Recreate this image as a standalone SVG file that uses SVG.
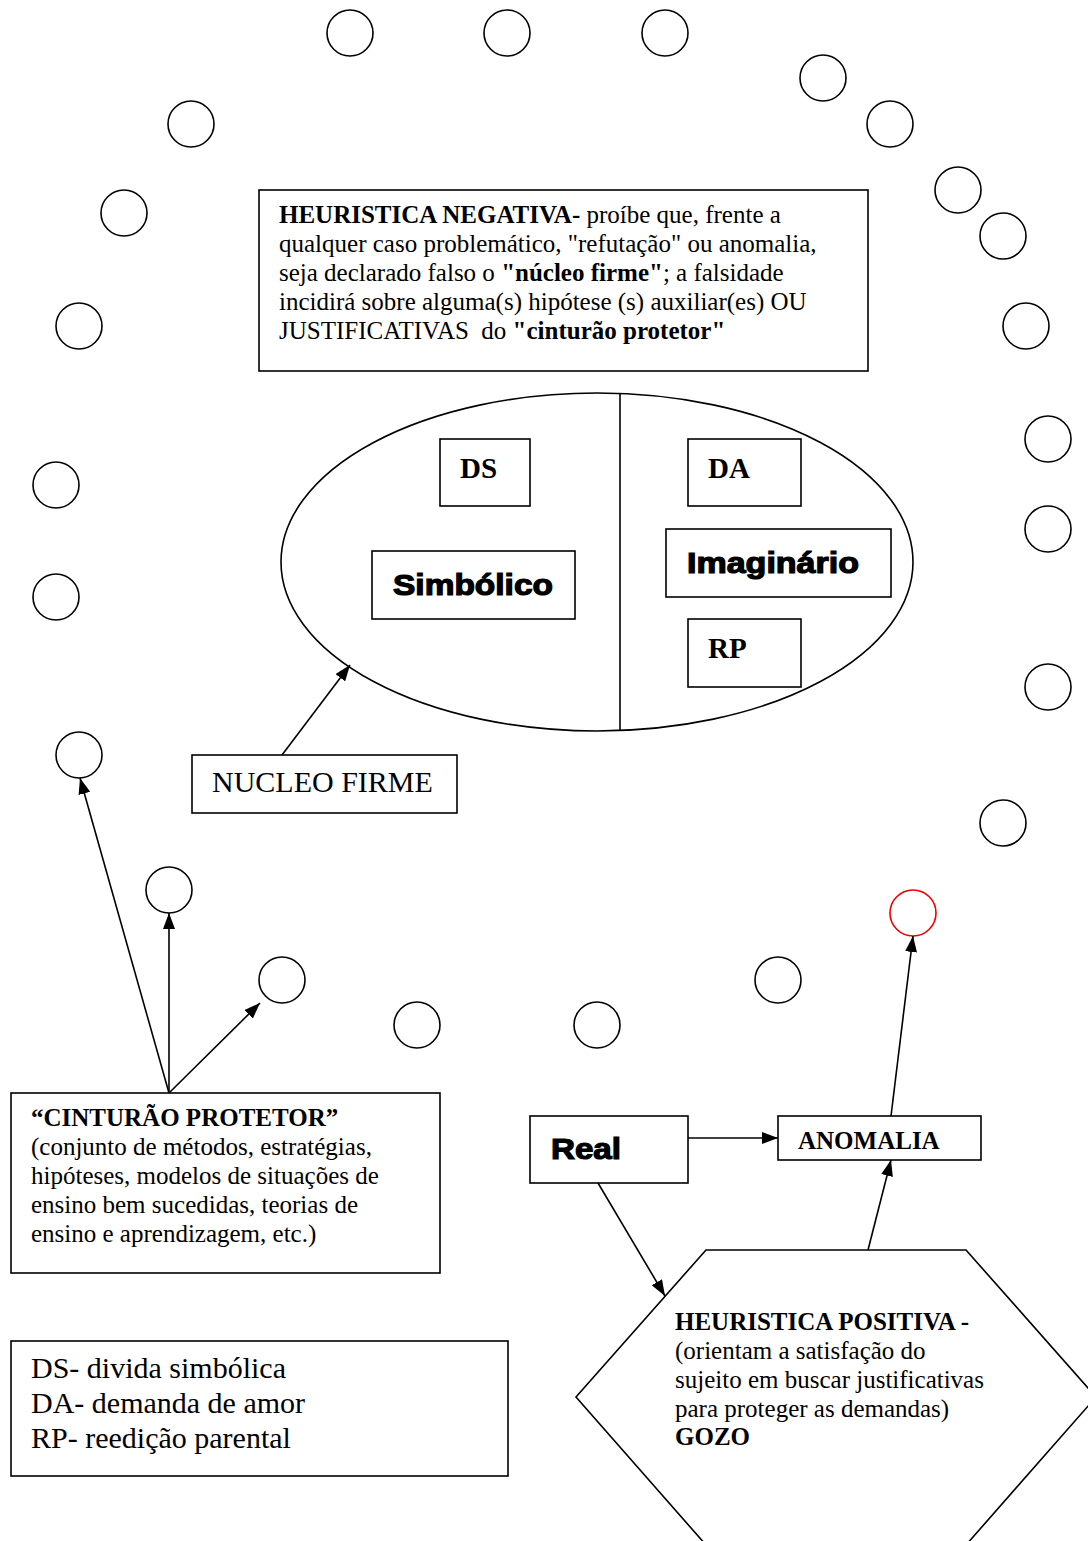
<svg xmlns="http://www.w3.org/2000/svg" width="1088" height="1541" viewBox="0 0 1088 1541">
<style>
.c{fill:none;stroke:#000;stroke-width:1.6}
.b{fill:#fff;stroke:#000;stroke-width:1.6}
.t{font-family:"Liberation Serif","Times New Roman",serif;fill:#000;font-size:25px}
.h{font-family:"Liberation Sans",Arial,sans-serif;font-weight:bold;fill:#000;stroke:#000;stroke-width:1.2;font-size:29px}
.e{fill:none;stroke:#000;stroke-width:1.6}
</style>
<defs>
<marker id="m" viewBox="0 0 16 12" refX="16" refY="6" markerWidth="16" markerHeight="12" markerUnits="userSpaceOnUse" orient="auto">
<path d="M0,0 L16,6 L0,12 z" fill="#000"/>
</marker>
</defs>
<rect width="1088" height="1541" fill="#fff"/>
<g id="circles">
<circle class="c" cx="350" cy="33" r="23"/>
<circle class="c" cx="507" cy="33" r="23"/>
<circle class="c" cx="665" cy="33" r="23"/>
<circle class="c" cx="823" cy="78" r="23"/>
<circle class="c" cx="890" cy="124" r="23"/>
<circle class="c" cx="191" cy="124" r="23"/>
<circle class="c" cx="124" cy="213" r="23"/>
<circle class="c" cx="958" cy="190" r="23"/>
<circle class="c" cx="1003" cy="236" r="23"/>
<circle class="c" cx="79" cy="326" r="23"/>
<circle class="c" cx="1026" cy="326" r="23"/>
<circle class="c" cx="1048" cy="439" r="23"/>
<circle class="c" cx="56" cy="485" r="23"/>
<circle class="c" cx="1048" cy="529" r="23"/>
<circle class="c" cx="56" cy="597" r="23"/>
<circle class="c" cx="1048" cy="687" r="23"/>
<circle class="c" cx="79" cy="755" r="23"/>
<circle class="c" cx="1003" cy="823" r="23"/>
<circle class="c" cx="169" cy="890" r="23"/>
<circle cx="913" cy="913" r="23" fill="none" stroke="#e00" stroke-width="1.6"/>
<circle class="c" cx="282" cy="980" r="23"/>
<circle class="c" cx="778" cy="980" r="23"/>
<circle class="c" cx="417" cy="1025" r="23"/>
<circle class="c" cx="597" cy="1025" r="23"/>
</g>
<g id="heuristica-negativa">
<rect class="b" x="259" y="190" width="609" height="181"/>
<text class="t" x="279" y="223"><tspan font-weight="bold">HEURISTICA NEGATIVA-</tspan> proíbe que, frente a</text>
<text class="t" x="279" y="252">qualquer caso problemático, "refutação" ou anomalia,</text>
<text class="t" x="279" y="281">seja declarado falso o <tspan font-weight="bold">"núcleo firme"</tspan>; a falsidade</text>
<text class="t" x="279" y="310">incidirá sobre alguma(s) hipótese (s) auxiliar(es) OU</text>
<text class="t" x="279" y="339" xml:space="preserve">JUSTIFICATIVAS  do <tspan font-weight="bold">"cinturão protetor"</tspan></text>
</g>
<g id="nucleo">
<ellipse class="e" cx="597" cy="562" rx="316" ry="169"/>
<line class="e" x1="620" y1="394" x2="620" y2="731"/>
</g>
<g id="ds">
<rect class="b" x="440" y="439" width="90" height="67"/>
<text class="t" style="font-size:29px" font-weight="bold" x="460" y="478">DS</text>
</g>
<g id="da">
<rect class="b" x="688" y="439" width="113" height="67"/>
<text class="t" style="font-size:29px" font-weight="bold" x="708" y="478">DA</text>
</g>
<g id="simbolico">
<rect class="b" x="372" y="551" width="203" height="68"/>
<text class="h" x="393" y="595" textLength="160" lengthAdjust="spacingAndGlyphs">Simbólico</text>
</g>
<g id="imaginario">
<rect class="b" x="666" y="529" width="225" height="68"/>
<text class="h" x="687" y="573" textLength="172" lengthAdjust="spacingAndGlyphs">Imaginário</text>
</g>
<g id="rp">
<rect class="b" x="688" y="619" width="113" height="68"/>
<text class="t" style="font-size:29px" font-weight="bold" x="708" y="658">RP</text>
</g>
<g id="nucleo-firme">
<rect class="b" x="192" y="755" width="265" height="58"/>
<text class="t" style="font-size:30px" x="212" y="792">NUCLEO FIRME</text>
</g>
<g id="cinturao">
<rect class="b" x="11" y="1093" width="429" height="180"/>
<text class="t" font-weight="bold" x="31" y="1126">“CINTURÃO PROTETOR”</text>
<text class="t" x="31" y="1155">(conjunto de métodos, estratégias,</text>
<text class="t" x="31" y="1184">hipóteses, modelos de situações de</text>
<text class="t" x="31" y="1213">ensino bem sucedidas, teorias de</text>
<text class="t" x="31" y="1242">ensino e aprendizagem, etc.)</text>
</g>
<g id="legenda">
<rect class="b" x="11" y="1341" width="497" height="135"/>
<text class="t" style="font-size:30px" x="31" y="1378">DS- divida simbólica</text>
<text class="t" style="font-size:30px" x="31" y="1413">DA- demanda de amor</text>
<text class="t" style="font-size:30px" x="31" y="1448">RP- reedição parental</text>
</g>
<g id="real">
<rect class="b" x="530" y="1116" width="158" height="67"/>
<text class="h" x="551" y="1159" textLength="70" lengthAdjust="spacingAndGlyphs">Real</text>
</g>
<g id="anomalia">
<rect class="b" x="778" y="1116" width="203" height="44"/>
<text class="t" font-weight="bold" x="798" y="1149">ANOMALIA</text>
</g>
<g id="heuristica-positiva">
<polygon class="b" points="706,1250 966,1250 1096,1397 966,1545 706,1545 576,1397"/>
<text class="t" font-weight="bold" x="675" y="1330">HEURISTICA POSITIVA -</text>
<text class="t" x="675" y="1359">(orientam a satisfação do</text>
<text class="t" x="675" y="1388">sujeito em buscar justificativas</text>
<text class="t" x="675" y="1417">para proteger as demandas)</text>
<text class="t" font-weight="bold" x="675" y="1445">GOZO</text>
</g>
<g id="connectors" fill="none" stroke="#000" stroke-width="1.6">
<line x1="282" y1="755" x2="350" y2="665" marker-end="url(#m)"/>
<line x1="169" y1="1093" x2="80" y2="778" marker-end="url(#m)"/>
<line x1="169" y1="1093" x2="169" y2="913" marker-end="url(#m)"/>
<line x1="169" y1="1093" x2="260" y2="1003" marker-end="url(#m)"/>
<line x1="688" y1="1138" x2="778" y2="1138" marker-end="url(#m)"/>
<line x1="598" y1="1183" x2="665" y2="1296" marker-end="url(#m)"/>
<line x1="868" y1="1250" x2="891" y2="1160" marker-end="url(#m)"/>
<line x1="891" y1="1116" x2="913" y2="936" marker-end="url(#m)"/>
</g>
</svg>
